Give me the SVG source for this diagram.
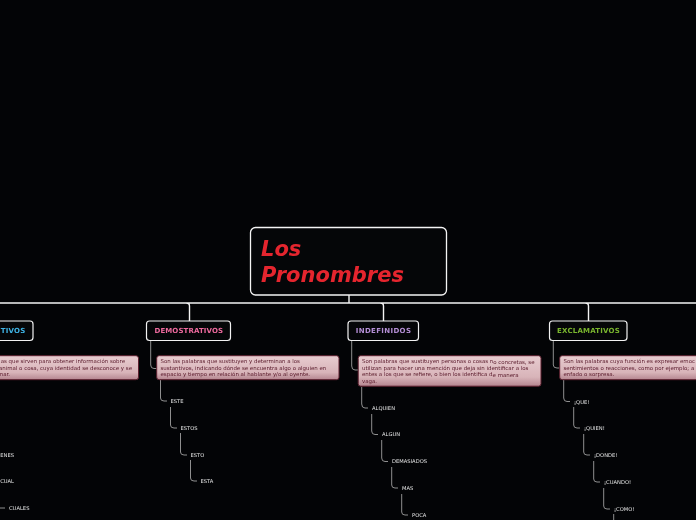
<svg xmlns="http://www.w3.org/2000/svg" width="696" height="520" viewBox="0 0 696 520">
<style>
text{font-family:"DejaVu Sans",Verdana,sans-serif}
.main{font-size:21px;font-weight:bold;font-style:italic;fill:#e8262f;opacity:.99}
.cat{fill:#050608;stroke:#f2f2f2;stroke-width:1.2}
.ct{font-size:7px;font-weight:bold;text-anchor:middle;letter-spacing:.2px;filter:url(#soft)}
.desc{fill:url(#dg);stroke:#5c1f2e;stroke-width:1}
.dt{font-size:5.45px;fill:#5a1c2c;filter:url(#soft)}
.lb{font-size:5.2px;fill:#e6e6e6;filter:url(#soft)}
.w{fill:none;stroke:#f4f4f4;stroke-width:1.4}
.g{fill:none;stroke:#8f8f8f;stroke-width:1}
</style>
<defs>
<linearGradient id="dg" x1="0" y1="0" x2="0" y2="1"><stop offset="0" stop-color="#e8ccd0"/><stop offset=".7" stop-color="#d8b4b9"/><stop offset="1" stop-color="#b58690"/></linearGradient>
<filter id="soft" x="-5%" y="-20%" width="110%" height="140%"><feGaussianBlur stdDeviation=".25"/></filter>
</defs>
<rect width="696" height="520" fill="#030406"/>
<g id="connectors">
<path class="w" d="M349 295V303M0 303H696M186 303Q189.500 303 189.500 306V321M380 303Q383.500 303 383.500 306V321M585 303Q588.500 303 588.500 306V321"/>
<path class="g" d="M150.700 341V365Q150.700 368.500 154 368.500H157M160.500 380V398Q160.500 401 164 401H167M170.500 407V425Q170.500 428 174 428H177M180.500 433V452Q180.500 455 184 455H187M190.500 460V478Q190.500 481 194 481H197"/>
<path class="g" d="M351.700 341V366Q351.700 370 355 370H358M361.700 387V404Q361.700 408 365 408H368M371.700 414V431Q371.700 434.500 375 434.500H378M381.700 440V458Q381.700 461.500 385 461.500H388M391.700 467V485Q391.700 488 395 488H398M401.700 494V512Q401.700 515 405 515H408"/>
<path class="g" d="M553.300 341V365Q553.300 368 557 368H559.500M563.700 380V398Q563.700 401.500 567 401.500H570M573.700 407V425Q573.700 428 577 428H580M583.700 434V452Q583.700 455 587 455H590M593.700 461V479Q593.700 482 597 482H600M603.700 488V506Q603.700 509 607 509H610M613.700 514V520"/>
<path class="g" d="M0 508H5"/>
</g>
<g id="main"><rect x="250.500" y="227.500" width="196" height="67.500" rx="5" fill="#050608" stroke="#f4f4f4" stroke-width="1.300"/><text class="main" x="261" y="256">Los</text><text class="main" x="261" y="282">Pronombres</text></g>
<g id="interrogativos"><rect class="cat" x="-50" y="321" width="83" height="19.500" rx="3"/><text class="ct" x="25.500" y="333" style="text-anchor:end" fill="#3fb4e6">TIVOS</text></g>
<g id="interrogativos-desc"><rect class="desc" x="-60" y="355.700" width="198.500" height="24" rx="2.500"/><text class="dt" x="125" y="363" text-anchor="end">as que sirven para obtener información sobre</text><text class="dt" x="132" y="369.500" text-anchor="end">animal o cosa, cuya identidad se desconoce y se</text><text class="dt" x="10" y="376" text-anchor="end">nar.</text></g>
<g id="l-quienes"><text class="lb" x="14" y="457" text-anchor="end">ENES</text></g>
<g id="l-cual"><text class="lb" x="14" y="483" text-anchor="end">CUAL</text></g>
<g id="l-cuales"><text class="lb" x="9" y="510">CUALES</text></g>
<g id="demostrativos"><rect class="cat" x="146.500" y="321" width="84" height="19.500" rx="3"/><text class="ct" x="188.800" y="333" fill="#ee6a9e" style="letter-spacing:.1px">DEMOSTRATIVOS</text></g>
<g id="demostrativos-desc"><rect class="desc" x="156.700" y="355.700" width="182.300" height="24" rx="2.500"/><text class="dt" x="160.500" y="363">Son las palabras que sustituyen y determinan a los</text><text class="dt" x="160.500" y="369.500">sustantivos, indicando dónde se encuentra algo o alguien en</text><text class="dt" x="160.500" y="376">espacio y tiempo en relación al hablante y/o al oyente.</text></g>
<g id="l-este"><text class="lb" x="170.500" y="403">ESTE</text></g>
<g id="l-estos"><text class="lb" x="180.500" y="430">ESTOS</text></g>
<g id="l-esto"><text class="lb" x="190.500" y="457">ESTO</text></g>
<g id="l-esta"><text class="lb" x="200.500" y="483">ESTA</text></g>
<g id="indefinidos"><rect class="cat" x="348" y="321" width="70.500" height="19.500" rx="3"/><text class="ct" x="383.500" y="333" fill="#b58fd6" style="letter-spacing:.35px">INDEFINIDOS</text></g>
<g id="indefinidos-desc"><rect class="desc" x="358.200" y="355.700" width="182.800" height="30.500" rx="2.500"/><text class="dt" x="362" y="363">Son palabras que sustituyen personas o cosas n<tspan dy=".8">o concretas, se</tspan></text><text class="dt" x="362" y="369.500">utilizan para hacer una mención que deja sin identificar a los</text><text class="dt" x="362" y="376">entes a los que se refiere, o bien los identifica d<tspan dy=".8">e manera</tspan></text><text class="dt" x="362" y="382.500">vaga.</text></g>
<g id="l-alquien"><text class="lb" x="372" y="410">ALQUIEN</text></g>
<g id="l-algun"><text class="lb" x="382" y="436">ALGUN</text></g>
<g id="l-demasiados"><text class="lb" x="392" y="463">DEMASIADOS</text></g>
<g id="l-mas"><text class="lb" x="402" y="490">MAS</text></g>
<g id="l-poca"><text class="lb" x="412" y="517">POCA</text></g>
<g id="exclamativos"><rect class="cat" x="549.500" y="321" width="77.500" height="19.500" rx="3"/><text class="ct" x="588.500" y="333" fill="#7ab62e">EXCLAMATIVOS</text></g>
<g id="exclamativos-desc"><rect class="desc" x="559.700" y="355.700" width="180" height="24" rx="2.500"/><text class="dt" x="563.500" y="363">Son las palabras cuya función es expresar emoc</text><text class="dt" x="563.500" y="369.500">sentimientos o reacciones, como por ejemplo; a</text><text class="dt" x="563.500" y="376">enfado o sorpresa.</text></g>
<g id="l-que"><text class="lb" x="574" y="404">¡QUE!</text></g>
<g id="l-quien"><text class="lb" x="584" y="430">¡QUIEN!</text></g>
<g id="l-donde"><text class="lb" x="594" y="457">¡DONDE!</text></g>
<g id="l-cuando"><text class="lb" x="604" y="484">¡CUANDO!</text></g>
<g id="l-como"><text class="lb" x="614" y="511">¡COMO!</text></g>
</svg>
